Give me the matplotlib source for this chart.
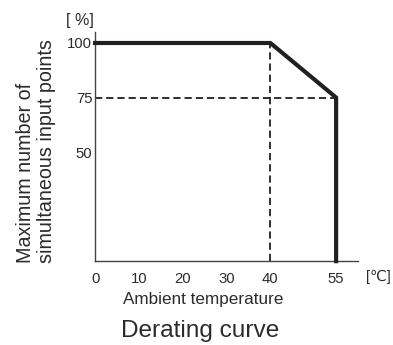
import matplotlib.pyplot as plt

plt.rcParams['font.family'] = ['Liberation Sans', 'DejaVu Sans']

# derating curve data
temp = [0, 40, 55, 55]
points = [100, 100, 75, 0]
knee_temp = 40
derated_pct = 75
max_temp = 55
x_ticks = [0, 10, 20, 30, 40, 55]
y_ticks = [50, 75, 100]

ink = '#231f20'
text_col = '#2b2b2b'

fig = plt.figure(figsize=(3.93, 3.45), dpi=100)
ax = fig.add_axes([0.242, 0.243, 0.669, 0.664])

ax.plot(temp, points, color=ink, linewidth=3, solid_joinstyle='miter', clip_on=False, zorder=3)
ax.plot([0, max_temp], [derated_pct, derated_pct], color=ink, linewidth=1.3, linestyle=(0, (4, 2.2)), zorder=2)
ax.plot([knee_temp, knee_temp], [0, 100], color=ink, linewidth=1.3, linestyle=(0, (4, 2.2)), zorder=2)

ax.set_xlim(0, 60)
ax.set_ylim(0, 105)
ax.set_xticks(x_ticks)
ax.set_yticks(y_ticks)
ax.tick_params(length=0, labelsize=10.7, colors=text_col, pad=8)
ax.tick_params(axis='y', pad=2)
for s in ['top', 'right']:
    ax.spines[s].set_visible(False)
for s in ['left', 'bottom']:
    ax.spines[s].set_color('#444444')
    ax.spines[s].set_linewidth(1.0)

# y label: two lines, both starting at the bottom of the axis
fig.text(0.092, 0.237, 'Maximum number of\nsimultaneous input points', fontsize=14.2,
         color=text_col, rotation=90, ha='center', va='bottom',
         multialignment='left', linespacing=1.1)
fig.text(0.517, 0.133, 'Ambient temperature', fontsize=12.3, color=text_col,
         ha='center', va='center')

fig.text(0.204, 0.94, '[ %]', fontsize=11.5, color=text_col, ha='center', va='center')
fig.text(0.962, 0.197, '[\u2103]', fontsize=10.7, color=text_col, ha='center', va='center')
fig.text(0.51, 0.04, 'Derating curve', fontsize=17.6, color=text_col, ha='center', va='center')

fig.savefig('out.png', dpi=100)
